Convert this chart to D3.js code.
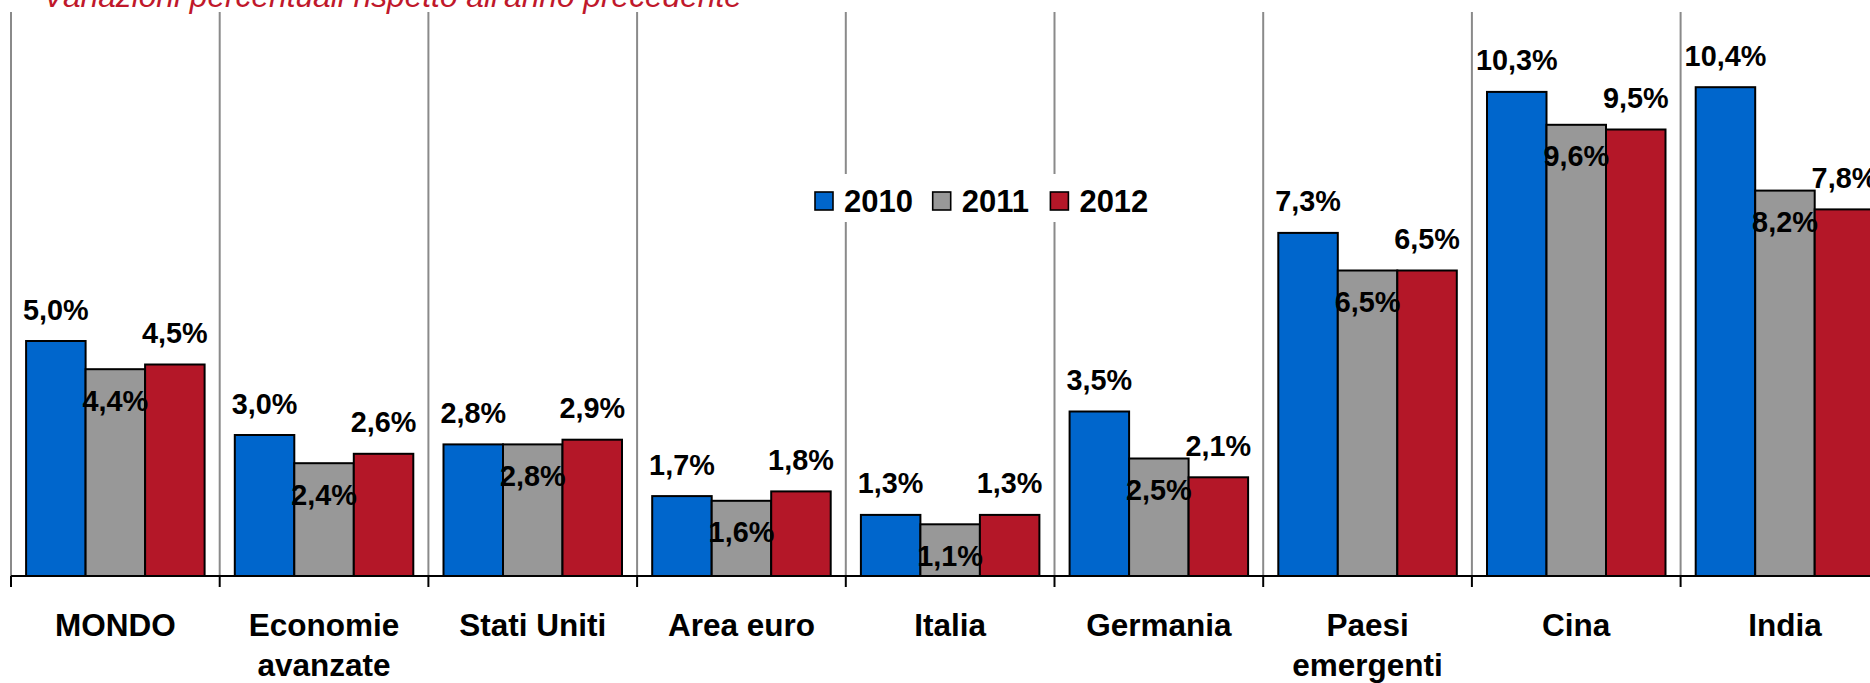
<!DOCTYPE html>
<html>
<head>
<meta charset="utf-8">
<script src="https://cdn.jsdelivr.net/npm/d3@7/dist/d3.min.js"></script>
<style>
  html, body { margin: 0; padding: 0; background: #fff; }
  svg { display: block; font-family: "Liberation Sans", Arial, sans-serif; }
</style>
</head>
<body>
<svg id="chart" width="1870" height="683"></svg>
<script>
// Crescita del PIL: variazioni percentuali annue
const categories = ["MONDO", "Economie\navanzate", "Stati Uniti", "Area euro", "Italia", "Germania", "Paesi\nemergenti", "Cina", "India"];
const years = ["2010", "2011", "2012"];
const values2010 = [5.0, 3.0, 2.8, 1.7, 1.3, 3.5, 7.3, 10.3, 10.4];
const values2011 = [4.4, 2.4, 2.8, 1.6, 1.1, 2.5, 6.5, 9.6, 8.2];
const values2012 = [4.5, 2.6, 2.9, 1.8, 1.3, 2.1, 6.5, 9.5, 7.8];
const subtitle = "Variazioni percentuali rispetto all'anno precedente";

const series = [values2010, values2011, values2012];
const colors = ["#0066CC", "#989898", "#B41728"];

const svg = d3.select("#chart");
const W = 1870, H = 683;

const step = 208.7;
const plotLeft = 11, plotTop = 12, base = 576;

const x = d3.scaleBand().domain(categories).range([plotLeft, plotLeft + step * categories.length]).padding(0);
const groupPad = 15.1;
const xs = d3.scaleBand().domain(years).range([groupPad, x.bandwidth() - groupPad]).padding(0);
const y = d3.scaleLinear().domain([0, 12]).range([base, plotTop]);

const fmt = v => d3.format(".1f")(v).replace(".", ",") + "%";

// vertical separators between categories
const bounds = d3.range(categories.length + 1).map(i => plotLeft + i * step);
svg.append("g").selectAll("line").data(bounds).join("line")
  .attr("x1", d => d).attr("x2", d => d)
  .attr("y1", plotTop).attr("y2", base)
  .attr("stroke", "#8a8a8a").attr("stroke-width", 2);

// subtitle (red italic)
svg.append("text")
  .attr("x", 43).attr("y", 7)
  .attr("fill", "#C0182B")
  .attr("font-style", "italic")
  .attr("font-size", "31.7px")
  .text(subtitle);

// bars
const groups = svg.append("g").selectAll("g").data(categories).join("g")
  .attr("transform", d => `translate(${x(d)},0)`);

groups.each(function(cat, ci) {
  const g = d3.select(this);
  years.forEach((yr, si) => {
    const v = series[si][ci];
    g.append("rect")
      .attr("x", xs(yr))
      .attr("y", y(v))
      .attr("width", xs.bandwidth())
      .attr("height", base - y(v))
      .attr("fill", colors[si])
      .attr("stroke", "#000")
      .attr("stroke-width", 2);
  });
});

// value labels
groups.each(function(cat, ci) {
  const g = d3.select(this);
  years.forEach((yr, si) => {
    const v = series[si][ci];
    const ly = si === 1 ? y(v) + 41.5 : y(v) - 21.5;
    g.append("text")
      .attr("x", xs(yr) + xs.bandwidth() / 2)
      .attr("y", ly)
      .attr("text-anchor", "middle")
      .attr("font-weight", "bold")
      .attr("font-size", "28.8px")
      .attr("fill", "#000")
      .text(fmt(v));
  });
});

// category axis
svg.append("line")
  .attr("x1", plotLeft).attr("x2", W)
  .attr("y1", base).attr("y2", base)
  .attr("stroke", "#000").attr("stroke-width", 2);
svg.append("g").selectAll("line").data(bounds).join("line")
  .attr("x1", d => d).attr("x2", d => d)
  .attr("y1", base).attr("y2", base + 11)
  .attr("stroke", "#000").attr("stroke-width", 2);

const catLabels = svg.append("g").selectAll("text").data(categories).join("text")
  .attr("x", d => x(d) + x.bandwidth() / 2)
  .attr("y", 636)
  .attr("text-anchor", "middle")
  .attr("font-weight", "bold")
  .attr("font-size", "31.5px")
  .attr("fill", "#000");
catLabels.each(function(d) {
  const t = d3.select(this);
  d.split("\n").forEach((line, i) => {
    t.append("tspan")
      .attr("x", x(d) + x.bandwidth() / 2)
      .attr("dy", i === 0 ? 0 : 40)
      .text(line);
  });
});

// legend
const legend = svg.append("g");
legend.append("rect")
  .attr("x", 805).attr("y", 174).attr("width", 355).attr("height", 48)
  .attr("fill", "#fff");
const itemStep = 117.7;
years.forEach((yr, i) => {
  const lx = 815 + i * itemStep;
  legend.append("rect")
    .attr("x", lx).attr("y", 192).attr("width", 18).attr("height", 18)
    .attr("fill", colors[i]).attr("stroke", "#000").attr("stroke-width", 1.6);
  legend.append("text")
    .attr("x", lx + 29).attr("y", 211.5)
    .attr("font-weight", "bold").attr("font-size", "31px")
    .text(yr);
});
</script>
</body>
</html>
